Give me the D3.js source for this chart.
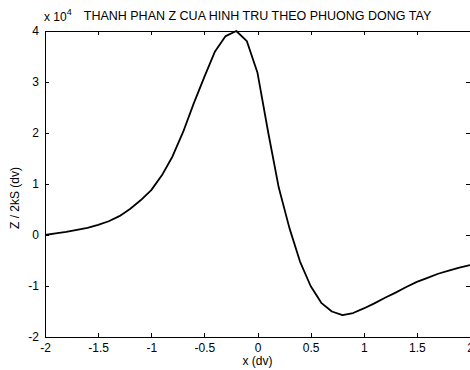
<!DOCTYPE html>
<html>
<head>
<meta charset="utf-8">
<script src="https://cdn.jsdelivr.net/npm/d3@7"></script>
<style>
  body { margin: 0; background: #fff; }
  svg { display: block; font-family: "Liberation Sans", Arial, sans-serif; }
</style>
</head>
<body>
<svg id="chart" width="470" height="370"></svg>
<script>
// profile data, z in units of 1e4
const xs = [-2.0, -1.9, -1.8, -1.7, -1.6, -1.5, -1.4, -1.3, -1.2, -1.1,
            -1.0, -0.9, -0.8, -0.7, -0.6, -0.5, -0.4, -0.3, -0.2, -0.1,
             0.0,  0.1,  0.2,  0.3,  0.4,  0.5,  0.6,  0.7,  0.8,  0.9,
             1.0,  1.1,  1.2,  1.3,  1.4,  1.5,  1.6,  1.7,  1.8,  1.9, 2.0];
const zs = [0.00, 0.03, 0.06, 0.10, 0.14, 0.20, 0.27, 0.37, 0.51, 0.68,
            0.88, 1.17, 1.54, 2.02, 2.58, 3.10, 3.60, 3.90, 4.00, 3.80,
            3.18, 2.02, 0.93, 0.14, -0.52, -1.00, -1.33, -1.50, -1.57, -1.53,
           -1.44, -1.34, -1.23, -1.13, -1.02, -0.92, -0.84, -0.76, -0.70, -0.64, -0.59];
const xTicks = [-2, -1.5, -1, -0.5, 0, 0.5, 1, 1.5, 2];
const yTicks = [-2, -1, 0, 1, 2, 3, 4];

const svg = d3.select("#chart");
const m = { left: 45, right: 470, top: 31, bottom: 337 };
const tickLen = 4;

const x = d3.scaleLinear().domain([-2, 2]).range([m.left, m.right]);
const y = d3.scaleLinear().domain([-2, 4]).range([m.bottom, m.top]);

const data = xs.map((v, i) => ({ x: v, z: zs[i] }));

// axes: ticks point inward on all four sides
const fmt = d => String(d);
const axisStyle = g => {
    g.select(".domain").remove();
    g.selectAll("line").attr("stroke", "#000").attr("shape-rendering", "crispEdges");
    g.selectAll("text").attr("fill", "#000").style("font-size", "12px");
};

svg.append("g")
    .attr("transform", `translate(0,${m.bottom})`)
    .call(d3.axisBottom(x).tickValues(xTicks).tickFormat(fmt).tickSizeInner(-tickLen).tickPadding(6))
    .call(axisStyle);

svg.append("g")
    .attr("transform", `translate(0,${m.top})`)
    .call(d3.axisTop(x).tickValues(xTicks).tickFormat("").tickSizeInner(-tickLen))
    .call(axisStyle);

svg.append("g")
    .attr("transform", `translate(${m.left},0)`)
    .call(d3.axisLeft(y).tickValues(yTicks).tickFormat(fmt).tickSizeInner(-tickLen).tickPadding(6))
    .call(axisStyle);

svg.append("g")
    .attr("transform", `translate(${m.right},0)`)
    .call(d3.axisRight(y).tickValues(yTicks).tickFormat("").tickSizeInner(-tickLen))
    .call(axisStyle);

// box
svg.append("rect")
    .attr("x", m.left + 0.5).attr("y", m.top + 0.5)
    .attr("width", m.right - m.left).attr("height", m.bottom - m.top)
    .attr("fill", "none").attr("stroke", "#000").attr("stroke-width", 1);

// curve
const line = d3.line().x(d => x(d.x)).y(d => y(d.z));
svg.append("path")
    .datum(data)
    .attr("d", line)
    .attr("fill", "none")
    .attr("stroke", "#000")
    .attr("stroke-width", 1.8)
    .attr("stroke-linejoin", "round");

// exponent label
const ex = svg.append("text")
    .attr("x", m.left - 1).attr("y", 21)
    .style("font-size", "12px").attr("fill", "#000");
ex.append("tspan").text("x 10");
ex.append("tspan").attr("dy", -6).style("font-size", "9px").text("4");

// title
svg.append("text")
    .attr("x", (m.left + m.right) / 2).attr("y", 20)
    .attr("text-anchor", "middle")
    .style("font-size", "12.5px").attr("fill", "#000")
    .text("THANH PHAN Z CUA HINH TRU THEO PHUONG DONG TAY");

// axis labels
svg.append("text")
    .attr("x", (m.left + m.right) / 2).attr("y", 365)
    .attr("text-anchor", "middle")
    .style("font-size", "12px").attr("fill", "#000")
    .text("x (dv)");

svg.append("text")
    .attr("transform", "translate(19,198) rotate(-90)")
    .attr("text-anchor", "middle")
    .style("font-size", "12px").attr("fill", "#000")
    .text("Z / 2kS (dv)");
</script>
</body>
</html>
